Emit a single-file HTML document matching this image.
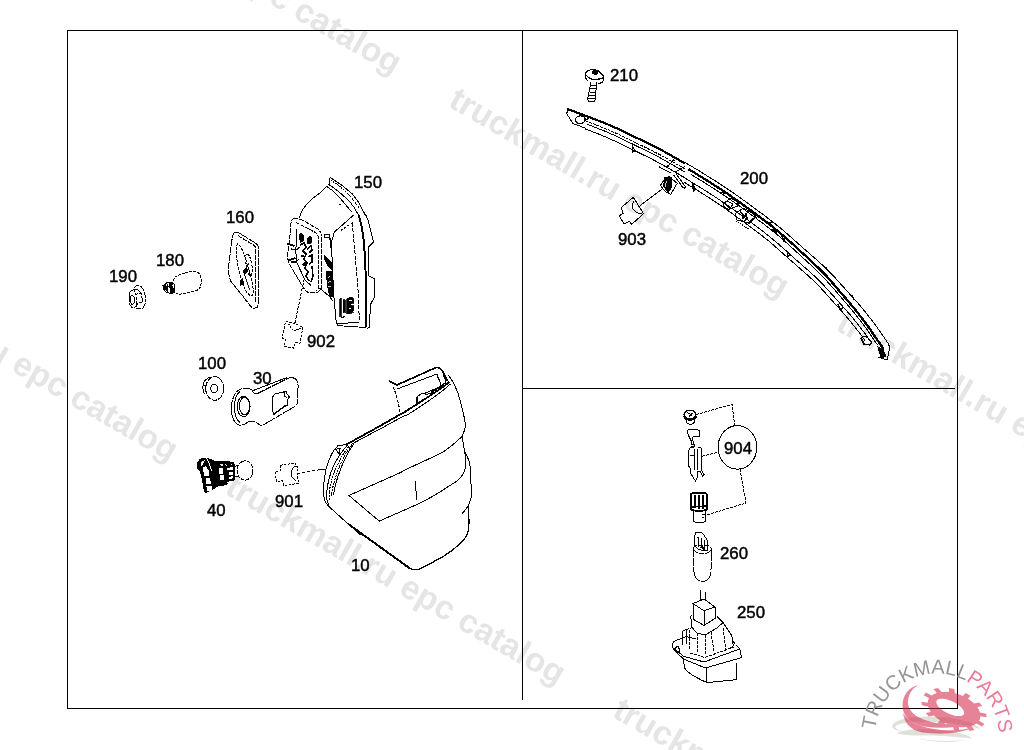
<!DOCTYPE html>
<html><head><meta charset="utf-8"><style>
html,body{margin:0;padding:0;background:#fff;width:1024px;height:750px;overflow:hidden}
svg{display:block;will-change:transform}
.wm text{font-family:"Liberation Sans",sans-serif;font-weight:bold;font-size:33.5px;fill:#e5e5e5}
.lb text{font-family:"Liberation Sans",sans-serif;font-size:16.8px;fill:#000;stroke:#000;stroke-width:0.45px}
</style></head><body>
<svg shape-rendering="crispEdges" width="1024" height="750" viewBox="0 0 1024 750">
<rect width="1024" height="750" fill="#fff"/>
<g class="wm">
<text transform="translate(59.5 -117.6) rotate(30)">truckmall.ru epc catalog</text>
<text transform="translate(-164.1 269.4) rotate(30)">truckmall.ru epc catalog</text>
<text transform="translate(447.0 105.7) rotate(30)">truckmall.ru epc catalog</text>
<text transform="translate(223.4 492.7) rotate(30)">truckmall.ru epc catalog</text>
<text transform="translate(1058.1 -58.0) rotate(30)">truckmall.ru epc catalog</text>
<text transform="translate(834.5 329.0) rotate(30)">truckmall.ru epc catalog</text>
<text transform="translate(610.9 716.0) rotate(30)">truckmall.ru epc catalog</text>
</g>
<g id="frame" fill="#000">
<rect x="67" y="30" width="891" height="1"/>
<rect x="67" y="708" width="891" height="1"/>
<rect x="67" y="30" width="1" height="679"/>
<rect x="957" y="30" width="1" height="679"/>
<rect x="522" y="30" width="1" height="670"/>
<rect x="522" y="388" width="433" height="1"/>
</g>
<g id="p10" fill="none" stroke="#000" stroke-width="1">
<path d="M389,381 L397,385 L436,367.5 C439,367 441,369 443,372 L447.5,381" stroke-width="1.7"/>
<path d="M397,389 L437,374 L441,385"/>
<path d="M393,387 C397,395 399,405 400,413" stroke-dasharray="3 1.5"/>
<path d="M416.5,406.4 L416.2,397.4 L420.5,394.2 L425.3,393.1 L437,388.1"/>
<path d="M418,404.9 L417.8,397.4 M425.3,394.7 L434.9,392.1"/>
<path d="M431,392.5 L438,388 L446,382.5 M429,396 L437,391 L445.5,385.5" stroke-width="1.6"/>
<path d="M437,375 L441.2,385.1 M443.4,375 L446,381.9"/>
<path d="M448.7,375.3 C452,380 457,388 460,400 C462,408 464,414 465.3,424 L465.6,426 C465,431 463,434 461.6,436.8 C455,443 449,449 440,453.6 C425,461 410,467 400,472.8 L349,495.5 L379.2,521.1 L420,503.2 C430,498 437,494 442.4,490.4 C450,485 455,483 458.4,479.6 C462,477 464,474 466,466 C466,460 465,455 464.8,452 L463.6,446 L462,436"/>
<path d="M464.8,452 C467,456 469,460 469.6,463.2 C471,470 471,476 471,484 C471.5,490 471.5,495 471,498.4 L468,506.4 L461.6,514.4"/>
<path d="M468,506.4 C469,512 469,520 468.8,527.2 C468,534 466,537 464.8,538.4 C458,546 452,551 444,556 C435,561 426,566 420,569 C416,570 413,570 410.4,568.8" stroke-width="1.3"/>
<path d="M410.4,568.8 L348,523.9" stroke-width="2"/>
<path d="M356,530 L362,534.5" stroke-width="3"/>
<path d="M348,523.9 L328.2,505.9 C326,503 324.8,501 324.6,499.9 C323.5,495 323.2,491 323.4,488 L324.6,477 L326.4,467.4 C328.5,461 331,455 333.6,450.6 L337.8,445.8 L345.6,444.6 L348,445.8"/>
<path d="M336,449.4 L340.2,448.2 L339,454.2 Z"/>
<path d="M346,444.7 C360,437 372,430.5 380,426 C392,419 400,414.5 405,411.8 C420,402 437,392 449.3,382" stroke-width="1.8"/>
<path d="M351,444.5 C363,438 373,432.5 381,428.5 C393,422 401,417 408.2,414.4 C423,405 440,394 450.3,384.1"/>
<path d="M346.5,446.5 C341,452 337,459 333.5,466 C329.5,475 327,486 326.5,495 C326.5,499 327.5,503 329,505.5"/>
<path d="M349,446.5 C344,452 339.5,460 336,468 C332,477 329.5,487 329,496 L329.5,500" stroke-dasharray="2 0.8"/>
<path d="M351.5,445.5 C346,452 342,460 338.5,469 C335,478 332,488 331.5,497" stroke-dasharray="2 0.8"/>
<path d="M353.5,444.5 C348.5,451 344.5,459 341,468 C337.5,477 334.5,487 333.5,495"/>
<path d="M415.5,481 L416.5,500"/>
<path d="M320,469.5 L325,469.5"/>
</g>
<g id="p150" fill="none" stroke="#000" stroke-width="1">
<path d="M330.4,177.6 C338,182 346,188 352,193.6 C356,198 359,202 362.4,209.6 L368,220 C370,228 372,236 373.5,242 L368.5,247 L368.8,275.7 L374,278.7 L374,297.7 L370.3,305 L369.6,327 L366.7,328.5"/>
<path d="M331.2,180.4 C340,186 350,194 359.2,208" stroke-dasharray="1.5 1"/>
<path d="M330.4,177.6 L329.4,178.8 L329.2,184"/>
<path d="M328,184 C336,189 344,196 350,202 C353,205.5 355.5,209 357.6,213.6"/>
<path d="M326.8,186.4 C331,189 336,193 340,198 C345,204 349,209 352,212"/>
<path d="M326.8,186.4 L320,192.8 C310,200 303,207 300.5,214 L299.5,218.5"/>
<path d="M358.4,214.4 C361,222 363,232 364.2,245 L365.5,270 L366.5,327" stroke-width="2"/>
<path d="M362.4,210.4 L366.5,216"/>
<path d="M354.4,214.4 L334.4,232 L331.5,242"/>
<path d="M352.8,222.4 L340.8,230.4" stroke-dasharray="2.5 1.5"/>
<path d="M352.2,222.8 C354.5,245 356.5,270 358,290 L359.3,319.7" stroke-dasharray="4 1.5"/>
<path d="M331.5,242 L333,286 L335.9,319.7 L337.3,325.6 L366,327.5"/>
<path d="M337.5,323.5 L359.3,322.5"/>
<path d="M339.2,204.8 L340.5,204"/>
<ellipse cx="327" cy="236" rx="3" ry="1.8"/>
<path d="M330,238 L331.5,250" stroke-width="1.6"/>
<path d="M293.2,219 C297,218 300,219 304,221 L316,228 C319,229.5 321.4,232 321.4,236 L322,284 C322,288 320,292 316,292.8 L309.4,292.8 C307,292.5 305,290 303,287 L290.8,266.4 C288,262 287.5,259 287.8,254 L289.6,240 L291,223 C291.3,221 292,219.5 293.2,219 Z" stroke-dasharray="5 1"/>
<path d="M296,222.5 L314.5,232 C317,233.5 318.5,235.5 318.5,238.5 L318.8,285 C318.8,287.5 318,289.5 316,290.5" stroke-dasharray="4 1"/>
<path d="M297,229 C296,240 295.5,252 296.5,262 L305,280 L311,285.5"/>
<path d="M287.2,243.6 L294.4,246 M288.4,260.4 L295.6,258" stroke-width="2"/>
<path d="M299,236 L301,233 L303.5,236 L303,241 L300.5,242 Z" fill="#000"/>
<path d="M291,249 L296,250 L300,247 M290.5,262 L296,262 L299,259" stroke-width="1.2"/>
<path d="M300,245 L304,243 L306,247 L303,251 L306,254 L304,259 L307,263 L305,268 L308,272 L306,276 L309,281" stroke-width="1.6"/>
<path d="M301,256 L304,256 M303,266 L306,265" stroke-width="1.2"/>
<path d="M307,249 L311,246 L312,250 L309,253 M308.5,257 L312,255 L312,262 L309,264" stroke-width="1.6"/>
<path d="M307.5,239 C308,236.5 310.5,236 311.5,238 L311,243 L308,244 Z" fill="#000"/>
<path d="M312,266 L313,276 L311,282" stroke-width="1.5"/>
<path d="M302,265 L305,263 L306,270" stroke-width="1.4"/>
<path d="M319.6,288 L330,297 L333,301"/>
<path d="M324.5,256 L331,262 L332,270 L328,266 L325,260 Z" fill="#000"/>
<path d="M326,272 L331,271 L333,280 L333,296 L330,297 L328,288 Z" fill="#000"/>
<path d="M327.5,277 L330,276 M327.5,282 L331,281 M328,287 L331,286" stroke="#fff" stroke-width="0.8"/>
<path d="M339.5,298.5 L341,298 L341.5,316 L339.8,316.5 Z M343,300 L345,299.5 L345.5,312 L343.5,312.5 Z" fill="#000" stroke-width="0.8"/>
<path d="M346.5,299 L349,297.5 L352,297 L353.5,299 L353.5,303 L350,304.5 L353.5,306 L354,311 L350.5,313.5 L347,313.5 Z" fill="#000" stroke-width="0.8"/>
<path d="M348.5,300 L351.5,300 M348.5,308 L351.5,308.5" stroke="#fff" stroke-width="1"/>
<path d="M341.5,317.5 L345,316.5" stroke-width="1.2"/>
</g>
<g id="p160" fill="none" stroke="#000" stroke-width="1">
<path d="M235.6,232.2 C233.5,233 232.5,235 232.2,238 L228.6,266 C228.3,271 229,277 230.6,281 L251.5,307.2 C253,308.5 255.5,308.5 257.5,307 L258.6,303 L258.6,249 C258.6,246.5 257.5,244.5 255.5,243 L239.5,233.2 C238,232.3 237,232 235.6,232.2 Z" stroke-dasharray="7 0.8"/>
<path d="M238,235.6 L254.5,245.6 C255.3,246.5 255.5,247.5 255.5,249" stroke-dasharray="5 0.8"/>
<path d="M255.5,249 L255.8,303" stroke-dasharray="5 1"/>
<path d="M237.8,243.7 C236.5,244.5 236,248 236.2,252 C236.8,262 239,272 242,282 C245,290 248,295 251,296 C253,296 253.5,293 253,288 C251.5,278 249,270 246.5,262 C244,253 241,246 237.8,243.7 Z" stroke-dasharray="3 1"/>
<path d="M247,254 C245.5,254.5 245,257 245.5,261 L247.5,272 C248.5,275 250,276 251.5,275 C252.5,273 252.5,268 251.5,263 C250.5,258 249,254 247,254 Z" stroke-dasharray="3 1"/>
<path d="M244,271 L246,269 L246.5,272 L244.5,274 Z M240.5,281 L242.5,279 L243,283 L241,284.5 Z" fill="#000" stroke-width="1.5"/>
<path d="M244,272 C245,278 248,285 250,290 M246.5,268 L249,263" stroke-width="0.9"/>
</g>
<g id="psmall1" fill="none" stroke="#000" stroke-width="1">
<path d="M134.2,288.4 C135,286 136.5,285 137.8,285.2 C140,285.5 142,287 143.5,290 C145,293.5 145.6,298 145.4,302 C145.2,305 144,307.5 141.8,308.8 L136,308.8" stroke-dasharray="3 0.7"/>
<path d="M129.4,293.5 L130.2,291.6 L134.6,289.2 L137.8,289.4 L140.2,292.8 L141.8,294 L142.2,302 L139,302.8 L137,304.4 L136.2,306.8 L132.2,307.6 L130,305 L129.4,302 Z" stroke-dasharray="3 0.6"/>
<path d="M135.5,294.5 L140.2,292.8 M136.2,297.2 L137,304.4 M134.6,289.2 L135.5,294.5" stroke-dasharray="3 0.6"/>
<path d="M129.6,294 L129.6,302" stroke-width="1.6"/>
<ellipse cx="132.3" cy="300" rx="2.3" ry="4.3" stroke-dasharray="3 0.6"/>
<path d="M175,292.5 C173,290 172,286 172.5,283 L175,277 C178,275 184,273 191.4,271.2 L195.7,271.2 C198,272 200,274 200.6,276.5 C201.5,280 201.5,284 200,287.5 C198.5,290 196,291 193,291.5 L180,294.2 C178,294.3 176.5,293.8 175,292.5" stroke-dasharray="3 1"/>
<path d="M163,285.5 L166.5,283 L170.5,282.5 L174,284 L174.5,292.5 L171,293.5 L166,292 L163.5,289 Z"/>
<path d="M163,285.5 L165.5,284 L166.5,290 L164,289 Z M169,283 L171,282.5 L172,287 L169.5,287.5 Z M170,289 L174,288.5 L174.5,292.5 L171,293.5 Z" fill="#000"/>
<path d="M166.5,286.5 L170,286 M167,283.5 L168,292" stroke-width="1"/>
</g>
<g id="psmall2" fill="none" stroke="#000" stroke-width="1">
<ellipse cx="214.7" cy="388.5" rx="9" ry="11.8" stroke-dasharray="6 0.7"/>
<path d="M212,377 C207,377 203.5,381 203,386 C202.8,390 203.5,393 205,395 M203.5,385 L207,385.5" stroke-dasharray="5 0.7"/>
<ellipse cx="214.1" cy="388.5" rx="3.3" ry="4.5"/>
<path d="M245,388.5 C248,388 250,388.5 251.5,390 L254,393 C255,394 256,394 257.5,393.5 L287.7,378.4 C291,377 294,377.5 296,379.5 C298,381.5 298.2,384 298,388 L297.8,401 C297.5,404 296,406 293,407.5 L264,424.5 C262,425.8 260,425.5 258.5,424 L256,422 C254.5,421 252,421 249,421.2 C246,424 243,425.5 240,425.3 C234,424.5 231.5,417 231.5,408 C231.5,398 236,390 241,389 C242.5,388.7 244,388.6 245,388.5 Z" stroke-dasharray="7 0.7"/>
<path d="M240,391.5 C236.5,394 234.5,400 234.5,407 C234.5,414 236.5,420 240,422.5"/>
<path d="M252,391 L287,377.5" />
<ellipse cx="243.6" cy="406.5" rx="6.5" ry="10.1"/>
<ellipse cx="244.5" cy="406" rx="5" ry="8.8"/>
<path d="M272.5,397 L275.4,393.6 L280,392.8 L286.6,391.3 L287,394 L289.4,397 L287,400 L287,405.5 L285.5,406 L273.1,414.9 Z"/>
<path d="M274,414 L285,406" stroke-width="1.5"/>
<path d="M284,392 L284.5,396 L287,398" />
</g>
<g id="p40" fill="none" stroke="#000" stroke-width="1">
<path d="M210.5,459.5 L216.3,461.9 L220,461.5 L224.9,461.4 L229,461.8 L233.4,462.5 L234.6,466 L234.8,479.5 L230,482 L224.9,484.9 L217.9,485.9 L213.1,489.1 L206.7,492.3 L204.6,491.8 L203.5,486 L202.5,480.6 L201.5,475 L199.5,470 L197.2,467.5 L197.1,464 L199.5,460 L202,458.5 L205.7,458 L208,458.5 Z" fill="#000"/>
<path d="M200.6,463.5 L202.5,460.8 L205,460.3 L203,464.5 L201,466 Z" fill="#fff" stroke="none"/>
<path d="M206.5,457.7 L208.5,462 L210.5,467 L211.5,471.5" stroke="#fff" stroke-width="1"/>
<path d="M203.2,467 L206,466.2 L208.6,470.5 L209.2,476 L204.2,476.3 L203.5,472 Z" fill="#fff" stroke="none"/>
<path d="M205.7,478.5 L209.5,478 L211.4,483.8 L206.2,484.3 Z" fill="#fff" stroke="none"/>
<path d="M206.4,486.2 L211.5,485.5 L211.8,490.5 L207.5,491 Z" fill="#fff" stroke="none"/>
<path d="M218.6,468.3 L222.6,467.6 L223,473.5 L219.2,474 Z M219.6,475.5 L223.5,475.2 L223.8,479.6 L220,480 Z" fill="#fff" stroke="none"/>
<path d="M226.5,467.8 L232.8,467.3 L232.8,469.8 L226.8,470.2 Z M228.8,472.5 L233,472.2 L233,474.5 L229,474.8 Z M229.2,476.6 L233.3,476.4 L233.3,478.4 L229.5,478.7 Z M226.5,482 L232,480.8 L231.8,482.5 L227,483.3 Z" fill="#fff" stroke="none"/>
<path d="M220.5,464 L222.5,464.5 L221.5,466 Z M225.5,463.5 L226.5,465.5 M231.5,464 L232.5,465.2" stroke="#fff" stroke-width="0.9"/>
<ellipse cx="245" cy="470.5" rx="7.9" ry="9.6" stroke-dasharray="4 0.8"/>
<path d="M234.8,466.5 L238.5,465 M235.2,476 L238,476.5"/>
</g>
<g id="pconn" fill="none" stroke="#000" stroke-width="1">
<path d="M280.3,465.3 L295.2,463.2 L295.8,466.1 L297,466 L297.5,479.6 L298.4,480.2 L298.4,483.4 L283.5,485.5 L282.6,480.8 L276.2,481.4 L275.3,471.4 L280.8,470.5 Z" stroke-dasharray="2.5 1.2"/>
<path d="M295.8,466.1 C293.5,467 292,469 291.6,472 L291.4,476 C292.5,478 294,479.5 295.8,480.5"/>
<path d="M297.5,473.5 L323.3,469.1" stroke-dasharray="3 2"/>
<path d="M285.6,321.7 L288.6,322 L294.8,323.5 L302.9,327.2 L300,343.3 L295.2,342.6 L293.3,348.1 L284.5,346.2 L285.6,340 L282,337.8 Z" stroke-dasharray="2.5 1.2"/>
<path d="M288.6,323.5 C290,327 292,330 294.1,330.8 C297,330 300,328.5 302.9,327.2" stroke-dasharray="2 1"/>
<path d="M294.8,323.5 L304,280" stroke-dasharray="3.5 1.2"/>
</g>
<g id="p200" fill="none" stroke="#000" stroke-width="1">
<path d="M567.5,109.0 L574.5,111.6 L575.9,112.2 L577.3,112.7 L578.7,113.2 L581.5,114.3 L584.2,115.3 L587.0,116.3 L589.6,117.3 L592.2,118.3 L594.6,119.2 L597.0,120.1 L599.2,121.0 L601.3,121.8 L603.3,122.6 L605.2,123.4 L607.0,124.1 L608.7,124.8 L610.3,125.5 L611.9,126.2 L613.5,126.9 L615.0,127.6 L616.6,128.3 L618.2,129.0 L619.8,129.7 L621.4,130.5 L623.0,131.2 L624.7,132.0 L626.3,132.8 L628.0,133.6 L629.6,134.4 L631.3,135.2 L633.0,136.0 L634.6,136.9 L636.3,137.7 L638.0,138.5 L639.7,139.3 L641.4,140.1 L643.1,141.0 L644.8,141.8 L646.5,142.6 L648.2,143.4 L649.9,144.3 L651.5,145.1 L653.2,145.9 L654.8,146.7 L656.4,147.5 L658.0,148.3 L659.5,149.1 L660.9,149.9 L662.4,150.6 L663.8,151.4 L665.1,152.1 L666.5,152.9 L667.8,153.6 L669.1,154.4 L670.4,155.1 L671.7,155.9 L673.0,156.6 L674.3,157.4 L675.6,158.1 L677.0,158.9 L678.3,159.6 L679.6,160.4 L680.9,161.1 L682.3,161.9 L683.6,162.7 L684.9,163.4" stroke-width="2.2"/>
<path d="M684.0,162.0 L685.3,162.7 L686.7,163.5 L688.0,164.3 L689.3,165.0 L690.7,165.8 L692.0,166.6 L693.3,167.4 L694.7,168.2 L696.0,169.0 L697.3,169.8 L698.7,170.6 L700.0,171.4 L701.3,172.3 L702.7,173.1 L704.0,173.9 L705.3,174.7 L706.7,175.6 L708.0,176.4 L709.3,177.2 L710.7,178.1 L712.0,178.9 L713.3,179.8 L714.7,180.6 L716.0,181.4 L717.3,182.3 L718.7,183.1 L720.0,184.0 L721.3,184.9 L722.7,185.7 L724.0,186.6 L725.3,187.5 L726.6,188.4 L727.9,189.2 L729.2,190.1 L730.5,191.0 L731.9,191.9 L733.2,192.8 L734.5,193.8 L735.9,194.7 L737.3,195.7 L738.7,196.7 L740.1,197.7 L741.5,198.7 L743.0,199.8 L744.5,200.8 L746.0,201.9 L747.5,203.0 L749.1,204.2 L750.6,205.3 L752.2,206.5 L753.8,207.7 L755.5,208.9 L757.1,210.1 L758.8,211.4 L760.5,212.6 L762.2,213.9 L764.0,215.2 L765.7,216.5 L767.5,217.9 L769.3,219.2 L771.1,220.6 L772.9,222.0 L774.7,223.4 L776.4,224.8 L778.2,226.2 L779.9,227.6 L781.6,229.0 L783.3,230.4 L784.9,231.9 L786.6,233.3 L788.2,234.7 L789.8,236.2 L791.5,237.7 L793.2,239.2 L794.9,240.7 L796.6,242.2 L798.4,243.9 L800.3,245.5 L802.2,247.2 L804.2,248.9 L806.2,250.7 L808.3,252.5 L810.4,254.4 L812.5,256.2 L814.6,258.0 L816.6,259.8 L818.6,261.6 L820.4,263.2 L822.1,264.8 L823.8,266.3 L825.2,267.7 L826.6,268.9 L827.8,270.1 L828.9,271.3 L830.0,272.3 L831.0,273.4 L832.0,274.4 L833.0,275.5 L834.1,276.7 L835.2,277.9 L836.5,279.3 L837.8,280.8 L839.3,282.4 L840.9,284.2 L842.6,286.0 L844.3,288.0 L846.1,290.0 L847.9,292.0 L849.7,294.0 L851.5,296.0 L853.1,297.8 L854.6,299.5 L855.9,301.0 L857.1,302.3 L858.1,303.4 L858.9,304.3 L859.6,305.1 L860.1,305.7 L860.5,306.2 L860.9,306.6 L861.2,307.0 L861.5,307.4 L861.9,307.8 L862.3,308.4 L862.8,309.0 L863.4,309.7 L864.1,310.6 L864.9,311.5 L865.7,312.6 L866.7,313.7 L867.6,314.9 L868.6,316.2 L869.6,317.4 L870.6,318.6 L871.5,319.8 L872.4,321.0 L873.2,322.1 L874.0,323.1 L874.7,324.0 L875.4,324.9 L876.0,325.7 L876.5,326.5 L877.0,327.2 L877.5,327.9 L877.9,328.6 L878.4,329.3 L878.9,330.0 L879.4,330.7 L879.9,331.5 L880.5,332.3 L881.1,333.1 L881.7,334.0 L882.4,335.0 L883.0,335.9 L883.7,336.9 L884.4,337.9 L885.1,338.8 L885.8,339.8 L886.4,340.7 L886.9,341.5 L887.4,342.3 L887.8,343.0 L888.2,343.7 L888.5,344.3 L888.7,344.8 L888.9,345.3 L889.1,345.8 L889.2,346.2 L889.3,346.6 L889.3,347.0 L889.4,347.2 L889.4,347.4 L889.4,347.5 L889.6,348.5"/>
<path d="M688.6,169.3 L690.0,170.1 L691.3,170.8 L692.6,171.6 L693.9,172.4 L695.3,173.2 L696.6,174.0 L697.9,174.9 L699.2,175.7 L700.6,176.5 L701.9,177.3 L703.2,178.1 L704.6,179.0 L705.9,179.8 L707.2,180.6 L708.5,181.5 L709.9,182.3 L711.2,183.1 L712.5,184.0 L713.9,184.8 L715.2,185.7 L716.5,186.5 L717.8,187.4 L719.1,188.2 L720.5,189.1 L721.8,189.9 L723.1,190.8 L724.4,191.7 L725.7,192.6 L727.0,193.4 L728.3,194.3 L729.6,195.2 L730.9,196.1 L732.2,197.0 L733.6,198.0 L735.0,199.0 L736.4,199.9 L737.8,200.9 L739.2,202.0 L740.7,203.0 L742.1,204.1 L743.6,205.2 L745.2,206.3 L746.7,207.4 L748.3,208.6 L749.9,209.7 L751.5,210.9 L753.1,212.1 L754.7,213.3 L756.4,214.6 L758.1,215.8 L759.8,217.1 L761.6,218.4 L763.3,219.7 L765.1,221.1 L766.9,222.4 L768.6,223.8 L770.4,225.2 L772.2,226.5 L773.9,227.9 L775.6,229.3 L777.3,230.7 L779.0,232.1 L780.7,233.5 L782.3,234.9 L783.9,236.3 L785.6,237.7 L787.2,239.2 L788.8,240.6 L790.5,242.1 L792.2,243.7 L793.9,245.2 L795.8,246.8 L797.6,248.5 L799.5,250.3 L801.4,252.1 L803.4,253.9 L805.5,255.8 L807.5,257.7 L809.6,259.6 L811.6,261.5 L813.5,263.3 L815.4,265.1 L817.2,266.8 L818.9,268.4 L820.4,269.9 L821.8,271.3 L823.1,272.5 L824.3,273.7 L825.3,274.8 L826.3,275.9 L827.3,276.9 L828.2,278.0 L829.2,279.1 L830.2,280.2 L831.3,281.5 L832.5,282.9 L833.8,284.4 L835.2,286.1 L836.8,287.9 L838.4,289.8 L840.1,291.8 L841.9,293.8 L843.6,295.9 L845.4,297.9 L847.0,299.9 L848.6,301.8 L850.1,303.5 L851.4,305.0 L852.5,306.4 L853.4,307.5 L854.2,308.4 L854.9,309.2 L855.4,309.8 L855.8,310.3 L856.1,310.7 L856.4,311.0 L856.7,311.4 L857.0,311.8 L857.4,312.3 L857.9,313.0 L858.5,313.7 L859.1,314.6 L859.9,315.6 L860.7,316.6 L861.6,317.8 L862.5,319.0 L863.5,320.3 L864.4,321.5 L865.4,322.8 L866.3,324.0 L867.1,325.1 L867.9,326.2 L868.6,327.2 L869.3,328.1 L869.9,328.9 L870.4,329.7 L870.9,330.4 L871.3,331.1 L871.8,331.8 L872.2,332.5 L872.6,333.2 L873.1,333.9 L873.6,334.6 L874.1,335.5 L874.7,336.3 L875.3,337.2 L876.0,338.1 L876.7,339.0 L877.3,340.0 L878.0,341.0 L878.7,341.9 L879.4,342.8 L880.0,343.7 L880.5,344.5 L881.0,345.3 L881.4,345.9 L881.8,346.5 L882.0,347.0 L882.2,347.3 L882.3,347.5 L882.3,347.6 L882.3,347.7 L882.4,347.8 L882.4,348.0 L882.5,348.3 L882.5,348.3 L882.5,348.4 L882.5,348.8 L882.7,349.8" stroke-width="2.3"/>
<path d="M585.3,120.8 L587.9,121.8 L590.5,122.8 L592.9,123.7 L595.3,124.6 L597.5,125.5 L599.6,126.3 L601.5,127.1 L603.4,127.8 L605.1,128.5 L606.8,129.2 L608.4,129.9 L610.0,130.6 L611.5,131.3 L613.1,131.9 L614.6,132.6 L616.2,133.3 L617.8,134.1 L619.4,134.8 L621.0,135.6 L622.6,136.3 L624.2,137.1 L625.9,137.9 L627.5,138.7 L629.2,139.5 L630.9,140.3 L632.5,141.2 L634.2,142.0 L635.9,142.8 L637.6,143.6 L639.3,144.5 L641.0,145.3 L642.7,146.1 L644.4,146.9 L646.1,147.8 L647.8,148.6 L649.4,149.4 L651.1,150.2 L652.7,151.0 L654.2,151.8 L655.8,152.6 L657.2,153.3 L658.7,154.1 L660.1,154.8 L661.5,155.6 L662.8,156.3 L664.1,157.1 L665.4,157.8 L666.7,158.5 L668.0,159.3 L669.3,160.0 L670.6,160.8 L671.9,161.5 L673.3,162.3 L674.6,163.0 L675.9,163.8 L677.2,164.5 L678.6,165.3 L679.9,166.1 L681.2,166.8 L682.5,167.6 L683.9,168.3 L685.2,169.1" stroke-dasharray="3 1"/>
<path d="M587.0,124.2 L589.5,125.2 L592.0,126.1 L594.3,127.0 L596.5,127.9 L598.6,128.7 L600.6,129.5 L602.4,130.2 L604.2,130.9 L605.8,131.6 L607.4,132.3 L609.0,133.0 L610.5,133.7 L612.0,134.3 L613.6,135.0 L615.1,135.7 L616.7,136.4 L618.3,137.2 L619.9,137.9 L621.5,138.7 L623.1,139.5 L624.8,140.3 L626.4,141.1 L628.1,141.9 L629.7,142.7 L631.4,143.5 L633.1,144.3 L634.7,145.1 L636.4,146.0 L638.1,146.8 L639.8,147.6 L641.5,148.4 L643.2,149.3 L644.9,150.1 L646.6,150.9 L648.3,151.7 L649.9,152.5 L651.5,153.3 L653.1,154.1 L654.6,154.9 L656.0,155.6 L657.5,156.4 L658.9,157.1 L660.2,157.9 L661.6,158.6 L662.9,159.3 L664.2,160.1 L665.5,160.8 L666.7,161.5 L668.0,162.3 L669.3,163.0 L670.6,163.8 L672.0,164.5 L673.3,165.3 L674.6,166.0 L675.9,166.8 L677.3,167.6 L678.6,168.3 L679.9,169.1 L681.2,169.8 L682.6,170.6 L683.9,171.4 L685.2,172.1"/>
<path d="M585.2,128.9 L587.8,129.9 L590.2,130.8 L592.5,131.7 L594.7,132.5 L596.8,133.3 L598.7,134.1 L600.5,134.9 L602.2,135.6 L603.9,136.3 L605.4,136.9 L607.0,137.6 L608.5,138.2 L610.0,138.9 L611.5,139.6 L613.0,140.3 L614.6,141.0 L616.1,141.7 L617.7,142.4 L619.3,143.2 L621.0,144.0 L622.6,144.8 L624.2,145.5 L625.9,146.4 L627.5,147.2 L629.2,148.0 L630.9,148.8 L632.6,149.6 L634.2,150.5 L636.0,151.3 L637.7,152.1 L639.4,152.9 L641.1,153.8 L642.8,154.6 L644.4,155.4 L646.1,156.2 L647.7,157.0 L649.3,157.8 L650.8,158.6 L652.3,159.3 L653.7,160.1 L655.1,160.8 L656.5,161.5 L657.8,162.3 L659.1,163.0 L660.4,163.7 L661.7,164.4 L663.0,165.1 L664.3,165.9 L665.6,166.6 L666.9,167.4 L668.2,168.1 L669.5,168.9 L670.8,169.6 L672.1,170.4 L673.5,171.1 L674.8,171.9 L676.1,172.7 L677.4,173.4 L678.7,174.2 L680.1,174.9 L681.4,175.7 L682.7,176.4 L684.0,177.2 L685.3,178.0"/>
<path d="M691.0,174.4 L692.3,175.2 L693.6,176.0 L694.9,176.8 L696.2,177.6 L697.6,178.4 L698.9,179.2 L700.2,180.0 L701.5,180.9 L702.9,181.7 L704.2,182.5 L705.5,183.3 L706.8,184.2 L708.2,185.0 L709.5,185.8 L710.8,186.7 L712.1,187.5 L713.5,188.4 L714.8,189.2 L716.1,190.0 L717.4,190.9 L718.7,191.8 L720.0,192.6 L721.3,193.5 L722.6,194.3 L723.9,195.2 L725.2,196.1 L726.5,197.0 L727.8,197.9 L729.1,198.8 L730.4,199.7 L731.8,200.6 L733.1,201.6 L734.5,202.5 L735.9,203.5 L737.3,204.6 L738.8,205.6 L740.3,206.7 L741.8,207.8 L743.3,208.9 L744.8,210.0 L746.4,211.1 L748.0,212.3 L749.6,213.5 L751.2,214.7 L752.8,215.9 L754.5,217.1 L756.2,218.4 L757.9,219.7 L759.6,221.0 L761.4,222.3 L763.2,223.6 L764.9,225.0 L766.7,226.3 L768.5,227.7 L770.2,229.1 L771.9,230.4 L773.6,231.8 L775.3,233.2 L777.0,234.5 L778.6,235.9 L780.2,237.3 L781.8,238.7 L783.4,240.1 L785.1,241.6 L786.7,243.0 L788.4,244.5 L790.1,246.0 L791.8,247.6 L793.6,249.2 L795.5,250.9 L797.4,252.7 L799.4,254.5 L801.4,256.3 L803.4,258.2 L805.4,260.0 L807.5,261.9 L809.5,263.8 L811.5,265.6 L813.4,267.4 L815.2,269.0 L816.8,270.6 L818.4,272.1 L819.7,273.5 L821.0,274.7 L822.1,275.9 L823.2,277.0 L824.2,278.0 L825.1,279.0 L826.0,280.0 L827.0,281.1 L828.0,282.3 L829.1,283.5 L830.3,284.9 L831.6,286.4 L833.0,288.1 L834.6,289.8 L836.2,291.7 L837.9,293.7 L839.7,295.8 L841.5,297.8 L843.2,299.9 L844.9,301.8 L846.5,303.7 L847.9,305.4 L849.2,306.9 L850.4,308.2 L851.3,309.4 L852.1,310.3 L852.8,311.1 L853.3,311.7 L853.6,312.1 L853.9,312.5 L854.2,312.8 L854.5,313.2 L854.8,313.6 L855.2,314.1 L855.7,314.7 L856.3,315.5 L856.9,316.3 L857.7,317.3 L858.5,318.4 L859.4,319.5 L860.4,320.8 L861.3,322.0 L862.3,323.2 L863.2,324.5 L864.1,325.7 L864.9,326.8 L865.7,327.8 L866.4,328.8 L867.1,329.7 L867.7,330.5 L868.2,331.3 L868.7,332.0 L869.1,332.7 L869.5,333.3 L870.0,334.0 L870.4,334.7 L870.9,335.4 L871.4,336.2 L871.9,337.0 L872.5,337.8 L873.1,338.7 L873.8,339.7 L874.5,340.6 L875.1,341.6 L875.8,342.5 L876.5,343.5 L877.1,344.4 L877.7,345.3"/>
<path d="M681.2,175.9 L682.5,176.7 L683.8,177.5 L685.1,178.2 L686.4,179.0 L687.7,179.8 L689.0,180.6 L690.3,181.4 L691.6,182.2 L692.9,183.0 L694.3,183.8 L695.6,184.6 L696.9,185.4 L698.2,186.2 L699.5,187.0 L700.9,187.9 L702.2,188.7 L703.5,189.5 L704.8,190.3 L706.1,191.2 L707.4,192.0 L708.8,192.8 L710.1,193.7 L711.4,194.5 L712.7,195.3 L714.0,196.2 L715.2,197.0 L716.5,197.9 L717.8,198.7 L719.1,199.6 L720.4,200.4 L721.7,201.3 L722.9,202.2 L724.2,203.0 L725.5,203.9 L726.8,204.8 L728.1,205.8 L729.5,206.7 L730.9,207.7 L732.3,208.7 L733.7,209.7 L735.1,210.7 L736.6,211.8 L738.1,212.9 L739.6,214.0 L741.1,215.1 L742.6,216.2 L744.2,217.4 L745.8,218.5 L747.4,219.7 L749.1,221.0 L750.7,222.2 L752.4,223.5 L754.1,224.7 L755.9,226.0 L757.6,227.3 L759.4,228.7 L761.1,230.0 L762.9,231.3 L764.6,232.7 L766.3,234.0 L768.0,235.3 L769.7,236.7 L771.3,238.0 L772.9,239.4 L774.5,240.7 L776.1,242.1 L777.7,243.4 L779.3,244.8 L780.9,246.3 L782.5,247.7 L784.2,249.2 L785.9,250.7 L787.6,252.3 L789.4,253.9 L791.3,255.6 L793.3,257.3 L795.3,259.1 L797.3,260.9 L799.4,262.7 L801.5,264.5 L803.6,266.4 L805.7,268.2 L807.7,269.9 L809.6,271.6 L811.4,273.2 L813.0,274.8 L814.6,276.2 L816.0,277.5 L817.2,278.7 L818.3,279.8 L819.4,280.8 L820.3,281.7 L821.2,282.7 L822.1,283.7 L823.1,284.7 L824.1,285.8 L825.3,287.0 L826.5,288.4 L827.8,289.9 L829.3,291.5 L830.9,293.2 L832.5,295.1 L834.3,297.0 L836.1,299.0 L837.9,301.0 L839.7,303.0 L841.4,305.0 L843.0,306.8 L844.5,308.4 L845.8,309.9 L847.0,311.2 L848.0,312.4 L848.8,313.3 L849.4,314.0 L849.9,314.6 L850.3,315.0 L850.6,315.3 L850.8,315.6 L851.1,316.0 L851.4,316.4 L851.8,316.9 L852.3,317.5 L852.9,318.2 L853.6,319.0 L854.4,320.0 L855.2,321.0 L856.1,322.2 L857.1,323.4 L858.1,324.6 L859.0,325.8 L860.0,327.0 L860.9,328.2 L861.7,329.3 L862.5,330.3 L863.3,331.2 L863.9,332.1 L864.5,332.9 L865.0,333.6 L865.5,334.2 L865.9,334.9 L866.3,335.5 L866.7,336.1 L867.2,336.8 L867.7,337.5 L868.2,338.3 L868.8,339.2 L869.4,340.0 L870.0,340.9 L870.7,341.9 L871.4,342.8"/>
<path d="M684.4,182.4 L685.7,183.2 L687.0,184.0 L688.2,184.8 L689.5,185.6 L690.9,186.4 L692.2,187.2 L693.5,188.0 L694.8,188.8 L696.1,189.6 L697.4,190.4 L698.7,191.2 L700.1,192.1 L701.4,192.9 L702.7,193.7 L704.0,194.6 L705.3,195.4 L706.6,196.2 L707.9,197.0 L709.2,197.9 L710.5,198.7 L711.8,199.5 L713.1,200.4 L714.3,201.2 L715.6,202.1 L716.9,202.9 L718.1,203.7 L719.4,204.6 L720.7,205.5 L721.9,206.3 L723.2,207.2 L724.5,208.1 L725.9,209.0 L727.2,210.0 L728.6,211.0 L729.9,211.9 L731.3,212.9 L732.8,214.0 L734.2,215.0 L735.7,216.1 L737.2,217.2 L738.7,218.3 L740.3,219.4 L741.8,220.6 L743.4,221.8 L745.0,222.9 L746.7,224.2 L748.3,225.4 L750.0,226.7 L751.7,227.9 L753.5,229.2 L755.2,230.5 L756.9,231.8 L758.7,233.2 L760.4,234.5 L762.1,235.8 L763.8,237.1 L765.5,238.5 L767.1,239.8 L768.8,241.1 L770.4,242.4 L771.9,243.8 L773.5,245.1 L775.0,246.5 L776.6,247.8 L778.2,249.2 L779.8,250.7 L781.5,252.2 L783.2,253.7 L785.0,255.3 L786.8,256.9 L788.7,258.6 L790.6,260.3 L792.7,262.1 L794.7,263.9 L796.8,265.7 L798.9,267.6 L801.0,269.4 L803.0,271.2 L805.0,272.9 L806.9,274.6 L808.7,276.2 L810.3,277.7 L811.9,279.1 L813.2,280.4 L814.4,281.5 L815.5,282.6 L816.5,283.6 L817.4,284.5 L818.3,285.5 L819.2,286.4 L820.2,287.4 L821.2,288.5 L822.3,289.7 L823.5,291.1 L824.9,292.5 L826.3,294.1 L827.9,295.9 L829.6,297.7 L831.3,299.7 L833.1,301.7 L834.9,303.7 L836.7,305.7 L838.4,307.6 L840.0,309.4 L841.5,311.1 L842.8,312.6 L844.0,313.9 L845.0,315.0 L845.8,315.9 L846.4,316.7 L846.9,317.2 L847.3,317.6 L847.5,317.9 L847.8,318.2 L848.0,318.5 L848.3,318.9 L848.7,319.4 L849.2,320.0 L849.8,320.7 L850.5,321.5 L851.3,322.5 L852.1,323.6 L853.0,324.7 L854.0,325.9 L854.9,327.1 L855.9,328.3 L856.8,329.5 L857.7,330.6 L858.6,331.7 L859.4,332.7 L860.1,333.6 L860.7,334.5 L861.2,335.2 L861.7,335.9 L862.2,336.5 L862.6,337.1 L863.0,337.7 L863.4,338.4 L863.9,339.1 L864.4,339.8 L864.9,340.6 L865.5,341.4"/>
<path d="M567.8,108.3 L566.8,113.7 L572.7,123.4 L579.5,125.9 L585.4,128.3"/>
<path d="M576,118 C578,115 583,115 585,118 C586,121 583,124 579,123.5 C576,123 575,120 576,118 Z M580,116 L581,113.5 M585,120 L589,118.5" stroke-width="1.2"/>
<path d="M889.6,348.5 L887.3,359.8 L877.7,357.2"/>
<path d="M861,338 C862,336 866,336 868,338 L872,342 L870,345 L864,344 Z" stroke-width="1.4"/>
<path d="M878,347 L883,350 L886,356 L881,358 Z" fill="#000"/>
</g>



<g id="p200x" fill="none" stroke="#000" stroke-width="1">
<path d="M633.3,197.3 L643.6,213.7 L631.5,224.4 L629.6,221.2 L624,224 L619.3,216 L623.1,213.2 L621.2,207.6 Z"/>
<path d="M633.3,201.1 C632.5,204 632.5,206.5 632.9,208.6 C634.5,211 636,212.5 638,213.2 L641.7,213.2"/>
<path d="M639.9,205.8 L662.3,188.9"/>
<path d="M660.4,185.2 L665.1,178.7 L669,176.5 L677.2,183.3 L670.7,194.5 L666,192 L662.3,188 Z"/>
<path d="M665,177 L663.5,186 L668,192.5 L671,188 L671.6,178 Z" fill="#000"/>
<path d="M666.2,181 L665.5,186.5" stroke="#fff" stroke-width="0.8"/>
<path d="M673.5,174.9 L682.5,187 C683.5,188.5 685,188.5 685.5,187 L676,173.5"/>
<path d="M658.6,166.5 L670.7,173.1 M666,167.5 L674.4,160 M675.4,172.1 L684.7,166.5 M668,166.4 L674.4,158.8"/>
<path d="M692.2,183.3 L693.5,190.8 L695.5,189 Z" stroke-width="1.2"/>
<path d="M632,145.5 L633,152 L635,150.5 Z" stroke-width="1.2"/>
<path d="M724,203.2 L730.4,198.4 L737.6,201.6 L738.4,205.6 L730.4,208.8 Z" stroke-width="1.1"/>
<path d="M724,203.2 L723,206 L729,210 L730.4,208.8 M727,201 L733,204 L731,207" stroke-width="1.2"/>
<path d="M735.2,213.6 L743.2,208 L749.6,211.2 L756,216 L749.6,223.2 L736.8,220 Z" stroke-width="1.1"/>
<path d="M740,212 L745,216 L742,219 M746,213 L747,219 L744,221" stroke-width="1.6"/>
<path d="M736,220.8 L749.6,229.6" stroke-dasharray="1.5 0.8"/>
<path d="M748,223.2 L756,216.8" stroke-width="2"/>
<path d="M721.6,192 L725.6,192.8 M748,209.6 L751.2,212 M772,229.6 L776.8,232.8" stroke-width="2.5"/>
<path d="M770.5,222.6 L773,222 M782,236 L783.5,240 L785,237 M769,222.5 L772,226" stroke-width="1.6"/>
<path d="M787,251 L790,254 L788,257 Z" stroke-width="1.4"/>
<path d="M838,304 L840.5,310 L843,307" stroke-width="1.4"/>
<path d="M823,266 L827,268 M852,295 L854,300" stroke-width="1.2"/>
</g>
<g id="p210" fill="none" stroke="#000" stroke-width="1">
<path d="M585.3,74.3 C586,72 588,70.3 590.2,69.9 L595,69.8 C597,70 598,70.4 598.5,70.8 L603.7,76.4 C603,78 601.5,79 599.6,79 L592.6,79.3 C590.5,79 588.8,78 587.9,76.7 Z" stroke-width="1.1"/>
<path d="M585.3,74.3 L585.6,78.4 L588.5,81.4 M603.7,76.7 L603.5,80 L602.6,82 L598.5,83.7" stroke-width="1.2"/>
<path d="M592.8,71 C593.5,70.3 596,70.3 597.5,71 L598,73.5 C596.5,74.5 594,74.5 593,73.5 Z" fill="#000"/>
<path d="M590.8,82 L589.5,90 L588.3,96 L587.6,99.5 L588.5,101.3 L591,101.9 L594.4,101.9 L595,100.1 L595.6,94 L596.2,88 L596.7,82.5"/>
<path d="M590.5,85 L596.3,85.3 M590,88.5 L596,88.8 M589.3,92 L595.7,92.3 M588.8,95.5 L595.4,95.8 M588.2,98.8 L595.1,99" stroke-width="1"/>
</g>
<g id="pbr" fill="none" stroke="#000" stroke-width="1">
<ellipse cx="690" cy="414.5" rx="6" ry="4.3" stroke-width="1.3"/>
<path d="M684.3,416 C685,418.5 687.5,419.5 690,419.5 C693,419.5 695.5,418 696,416" stroke-width="2.4"/>
<path d="M686,419.5 C686,422.5 688,424.3 690.5,424.3 C693,424.3 694.8,422.5 694.8,419.5" />
<path d="M687.5,412.5 L692,415.5 M689,416.5 L692.5,413" stroke-width="1"/>
<path d="M696,414.7 L732,404.4 L734.7,425.6" stroke-dasharray="3 1"/>
<path d="M687,431 C687,429.5 690,429 694,429.2 C698,429.4 700,430 700,432 L699.5,437 L693,436.8 L692.6,440 L694.5,445"/>
<path d="M687,431.5 L688.5,435.5 L690,438.5 L691.5,441.5 L692,445" stroke-width="1"/>
<path d="M692,444 L694.5,445 L694,447 L690,448 L688,452 L688,465 L690.5,469 L691,474 L693.5,478 L695.5,481 L697.5,477 L697,472 L700,471 L702.5,476 L704,474.5 L701.5,470 L701.5,462 L702,450 L700.5,447 L697.5,447"/>
<path d="M692.5,445.5 L692.5,448" stroke-width="2.5"/>
<path d="M694.5,449 L694.5,470 M697,449 L697,470 M690,455 L694.5,456" stroke-width="1"/>
<path d="M702.2,456.1 L718,452.2" stroke-dasharray="3 1"/>
<path d="M690.8,495 C690.8,493 693.5,492.7 697,492.8 L703.5,492.7 C706.5,492.8 707.3,494 707.3,496 L707,509 C707,510 704,510.8 699,510.8 C694,510.8 691,510 691,509 Z" stroke-width="1.8"/>
<path d="M695,495 L695,508 M699,494.5 L699,509 M703,494.5 L703,508.5" stroke-width="1.1"/>
<path d="M691,507 L707,506" stroke-width="1.5"/>
<path d="M693.3,510.5 L693.5,521.5 C696,523 703,523 705.9,521.5 L705.8,510.5"/>
<path d="M702,514 L705,514 M702,517 L704.5,517.5"/>
<path d="M740,469.2 L746,503 L706.6,515" stroke-dasharray="3 1"/>
<ellipse cx="737.4" cy="447.4" rx="19.4" ry="21.8"/>
<path d="M694.7,536 L696,532.5 C699,531.5 702,532.5 704,535 L707,540 L708,550.7 L704,551 L698,549 L695,546 Z"/>
<path d="M698,537 L698.5,547 M701.5,538 L702,548 M704.5,540 L705,549.5" stroke-width="1.1"/>
<path d="M701,546.5 L705,549" stroke-width="2.5"/>
<path d="M693.8,548.5 C693.5,546 697,545 702.5,545 C708,545 711.2,546.5 711.2,549 C711.2,552 707.5,553.5 702.5,553.5 C697.5,553.5 693.8,551.5 693.8,548.5 Z" stroke-dasharray="5 1"/>
<path d="M693.8,549 L694,572 C694.5,578 698,581.5 702.5,581.5 C707,581.5 710.5,578 711,572 L711.2,549" stroke-dasharray="8 0.8"/>
<path d="M700.3,589.5 L700.3,599.8 M705.4,591.7 L705.4,599"/>
<path d="M693,603.5 L704,599 L715,607.1 L704,610.8 Z"/>
<path d="M693,603.5 L693.7,619.6 L704,625.4 L715.7,618.1 L715,607.1 M704,610.8 L704,625.4" />
<path d="M704,612 L704,624" stroke-dasharray="2 1.5"/>
<path d="M692,615 L690.8,616 L691.5,627 L697,633 L705,635 L717,628 L723,622.5 L717.2,616.6"/>
<path d="M723,622.5 L731.8,635.7 L733.3,646 L729,649"/>
<path d="M691.5,627 L689,631 L690,650 M697,633 L697,652 M705,635 L706,655 M711,632 L714,652 M723,628 L726,650" stroke-dasharray="3 1"/>
<path d="M682,631.3 L689.3,628.4 M682,631.3 L683,645 M686,630 L687,644"/>
<path d="M673.2,641.6 L686.5,636.5 L696,639 M673.2,641.6 L672.5,647.4 L683.5,656.2 L704,662 L739.9,648.9 L741.4,657.7 L705.4,668 L683.5,659 L676,652 L673,648"/>
<path d="M733,641.5 L739.9,648.9 M690,653 L705,657.5 L735,646.5" stroke-dasharray="3 1"/>
<path d="M674.5,648.5 L678,646 L680,651 L677,653 Z" stroke-width="1.2"/>
<path d="M683.5,658 L684.2,666.5 C684.8,670 690,675 706.9,682.6 L736.2,679.7 L737,662.8"/>
<path d="M706.5,667.5 L706.9,682.6" />
</g>
<g class="lb">
<text x="354" y="188.3">150</text>
<text x="226" y="223.3">160</text>
<text x="156" y="266.3">180</text>
<text x="109" y="282.3">190</text>
<text x="307" y="347.3">902</text>
<text x="198" y="369.3">100</text>
<text x="253" y="384.3">30</text>
<text x="207" y="516.3">40</text>
<text x="275" y="507.3">901</text>
<text x="351" y="571.3">10</text>
<text x="610" y="81.3">210</text>
<text x="740" y="184.3">200</text>
<text x="618" y="245.3">903</text>
<text x="724" y="454.3">904</text>
<text x="720" y="559.3">260</text>
<text x="737" y="618.3">250</text>
</g>




<g id="logo" shape-rendering="geometricPrecision">
<defs><path id="arcp" d="M875.2,729.7 A62,62 0 0 1 998.8,739.4"/></defs>
<g fill="rgb(200,200,188)" opacity="0.55">
<path d="M892,726 C894,719 915,715 942,717 C962,719 976,723 980,729 C972,726 955,723 935,722 C912,721 897,723 895,727 C896,729 900,731 905,732 C897,731 892,729 892,726 Z"/>
<path d="M897,733 C903,729 925,728 948,731 C962,733 970,736 972,738.5 C960,737 940,735.5 925,735.5 C910,735.5 901,735 897,733 Z"/>
<path d="M915,738 C930,741 952,742 968,739.5 C955,743 933,743 915,738 Z"/>
</g>
<g fill="rgb(214,36,71)" opacity="0.56">
<path fill-rule="evenodd" d="M979.9,718.9 L978.9,720.8 L984.4,723.8 L982.1,726.4 L976.4,723.5 L973.7,725.1 L971.2,726.1 L974.6,730.1 L970.0,731.0 L966.4,727.0 L962.2,727.2 L958.9,726.9 L959.2,730.9 L953.7,729.9 L953.1,725.8 L948.6,724.5 L945.2,723.1 L942.4,725.9 L937.5,723.3 L940.0,720.3 L936.4,717.7 L933.9,715.6 L928.7,716.5 L925.7,713.0 L930.7,711.9 L928.9,708.8 L928.0,706.5 L921.8,705.3 L921.4,701.8 L927.6,702.8 L928.1,700.1 L929.1,698.2 L923.6,695.2 L925.9,692.6 L931.6,695.5 L934.3,693.9 L936.8,692.9 L933.4,688.9 L938.0,688.0 L941.6,692.0 L945.8,691.8 L949.1,692.1 L948.8,688.1 L954.3,689.1 L954.9,693.2 L959.4,694.5 L962.8,695.9 L965.6,693.1 L970.5,695.7 L968.0,698.7 L971.6,701.3 L974.1,703.4 L979.3,702.5 L982.3,706.0 L977.3,707.1 L979.1,710.2 L980.0,712.5 L986.2,713.7 L986.6,717.2 L980.4,716.2 Z M963.9,714.1 L964.1,713.1 L964.0,712.0 L963.6,710.8 L962.9,709.5 L961.8,708.1 L960.5,706.7 L958.9,705.4 L957.0,704.1 L955.1,702.8 L953.0,701.7 L950.8,700.8 L948.6,700.0 L946.5,699.3 L944.4,698.9 L942.5,698.7 L940.8,698.7 L939.3,698.9 L938.1,699.3 L937.1,699.9 L936.5,700.7 L936.3,701.7 L936.4,702.8 L936.8,704.0 L937.5,705.3 L938.6,706.7 L939.9,708.1 L941.5,709.4 L943.4,710.7 L945.3,712.0 L947.4,713.1 L949.6,714.0 L951.8,714.8 L953.9,715.5 L956.0,715.9 L957.9,716.1 L959.6,716.1 L961.1,715.9 L962.3,715.5 L963.3,714.9 Z"/>
<path d="M919,685 C911,688.5 907.5,696 908,704 C909,712.5 918,719.5 936,723 C949,725 960,724.5 968,723.5 C957,728 940,729 924,726.5 C910,723.5 902.5,716 902.5,705.5 C902.5,695 909,687 919,685 Z"/>
<path d="M903,713 C908,722 921,728 941,730 C955,731 966,729.5 974,727 C962,733.5 941,735 922,732.5 C910,730 904,722 903,713 Z"/>
</g>
<text font-family="Liberation Sans, sans-serif" font-size="20" fill="#959595"><textPath href="#arcp" xlink:href="#arcp">TRUCKMALL<tspan fill="rgb(233,124,148)">PARTS</tspan></textPath></text>
</g>

</svg>
</body></html>
